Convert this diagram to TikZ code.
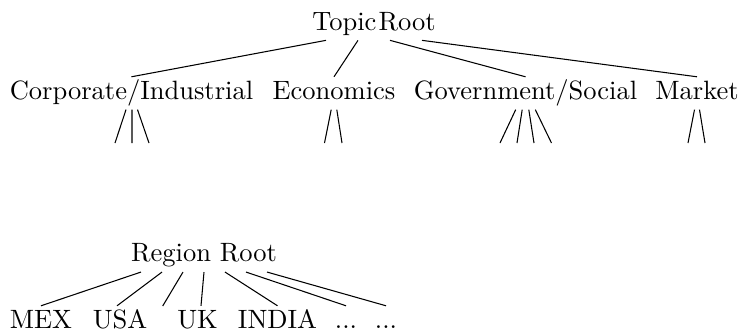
\documentclass[tikz,border=0pt]{standalone}
\usetikzlibrary{calc}
\begin{document}
\begin{tikzpicture}[x=0.3774pt,y=-0.3774pt,
  tn/.style={anchor=base, inner sep=0pt, text height=8.3pt, text depth=3.7pt},
  edge/.style={draw, line width=0.4pt}]
\useasboundingbox (0,0) rectangle (740,332);
% topic tree
\node[tn] (topic) at (374,30) {Topic\kern0.8pt Root};
\node[tn] (corp) at (131.5,99.3) {Corporate/Industrial};
\node[tn] (econ) at (334,99.3) {Economics};
\node[tn] (gov) at (525.5,99.3) {Government/Social};
\node[tn] (mkt) at (697,99.3) {Market};
\draw[edge] ($(topic.south)+(-48,0)$) -- (corp.north);
\draw[edge] ($(topic.south)+(-16,0)$) -- (econ.north);
\draw[edge] ($(topic.south)+(16,0)$) -- (gov.north);
\draw[edge] ($(topic.south)+(48,0)$) -- (mkt.north);
% empty leaves
\coordinate (c1) at (115,143);
\coordinate (c2) at (132,143);
\coordinate (c3) at (149,143);
\coordinate (e1) at (324.5,143);
\coordinate (e2) at (342,143);
\coordinate (g1) at (500,143);
\coordinate (g2) at (517,143);
\coordinate (g3) at (534,143);
\coordinate (g4) at (551.5,143);
\coordinate (m1) at (688,143);
\coordinate (m2) at (705,143);
\draw[edge] ($(corp.south)+(-5.5,0)$) -- (c1);
\draw[edge] ($(corp.south)+(0.5,0)$) -- (c2);
\draw[edge] ($(corp.south)+(6,0)$) -- (c3);
\draw[edge] ($(econ.south)+(-2.8,0)$) -- (e1);
\draw[edge] ($(econ.south)+(2.8,0)$) -- (e2);
\draw[edge] ($(gov.south)+(-9.8,0)$) -- (g1);
\draw[edge] ($(gov.south)+(-3.3,0)$) -- (g2);
\draw[edge] ($(gov.south)+(3.3,0)$) -- (g3);
\draw[edge] ($(gov.south)+(9.8,0)$) -- (g4);
\draw[edge] ($(mkt.south)+(-2.5,0)$) -- (m1);
\draw[edge] ($(mkt.south)+(2.5,0)$) -- (m2);
% region tree
\node[tn] (region) at (204,261.7) {Region Root};
\node[tn] (mex) at (41,328.3) {MEX};
\node[tn] (usa) at (120,328.3) {USA};
\coordinate (rx) at (162.7,306);
\node[tn] (uk) at (197.5,328.3) {UK};
\node[tn] (india) at (277.5,328.3) {INDIA};
\node[tn] (d1) at (346,328.3) {...};
\node[tn] (d2) at (386,328.3) {...};
\draw[edge] ($(region.south)+(-63,0)$) -- (mex.north);
\draw[edge] ($(region.south)+(-42,0)$) -- ($(usa.north)+(-3,0)$);
\draw[edge] ($(region.south)+(-21,0)$) -- (rx);
\draw[edge] ($(region.south)+(0,0)$) -- ($(uk.north)+(3.5,0)$);
\draw[edge] ($(region.south)+(21,0)$) -- (india.north);
\draw[edge] ($(region.south)+(42,0)$) -- (d1.north);
\draw[edge] ($(region.south)+(63,0)$) -- (d2.north);
\end{tikzpicture}
\end{document}
